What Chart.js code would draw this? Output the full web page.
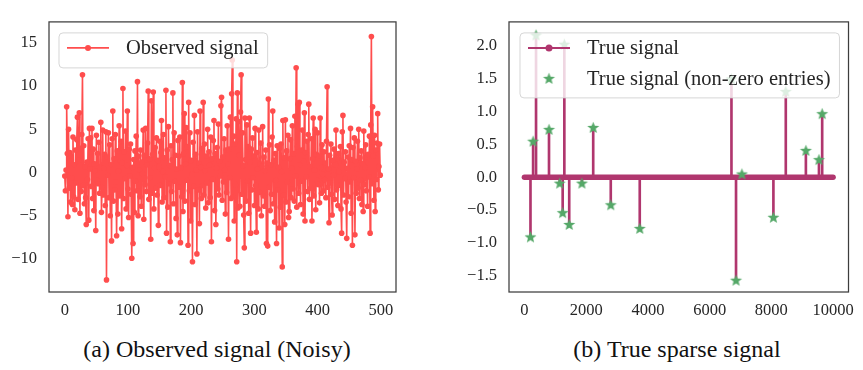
<!DOCTYPE html>
<html>
<head>
<meta charset="utf-8">
<script src="https://cdn.jsdelivr.net/npm/chart.js"></script>
<style>
  body { margin: 0; background: #fff; }
  #wrap { position: relative; width: 863px; height: 370px; overflow: hidden; }
  canvas { position: absolute; top: 0; }
  .cap { position: absolute; width: 400px; text-align: center; font: 24px "Liberation Serif", serif; color: #111; top: 336px; }
</style>
</head>
<body>
<div id="wrap">
  <canvas id="obsChart" width="420" height="320" style="left:0"></canvas>
  <canvas id="trueChart" width="443" height="320" style="left:420px"></canvas>
  <div class="cap" style="left:17px">(a) Observed signal (Noisy)</div>
  <div class="cap" style="left:477px">(b) True sparse signal</div>
</div>
<script>
// observed (noisy) signal, index 0..499
const observed = [
  -0.4, -2.1, 0.3, 7.6, 2.2, -5.1, 5.0, -1.8, 2.3, -3.4,
  1.9, -0.6, -3.7, 4.1, -2.8, 0.9, -4.3, 2.6, -1.2, 3.8,
  6.4, -3.1, 1.4, 6.9, -4.7, 2.8, -2.2, 4.4, 11.3, -1.5,
  3.1, -3.6, 0.7, -2.9, -6.0, 1.2, -0.8, 3.9, -5.5, 5.1,
  0.4, 4.0, -1.6, 5.1, -3.0, 2.7, -4.4, 1.0, 0.2, -6.7,
  4.3, -0.9, 2.2, -1.3, 3.5, -2.4, 0.6, 5.8, -4.6, -1.7,
  4.9, -2.6, 0.5, 2.1, -3.8, 4.7, -12.4, 1.8, -0.3, 4.6,
  -2.9, 3.2, -5.0, 0.9, -7.9, 3.9, 7.1, -3.3, 1.6, -2.0,
  4.4, -1.1, -7.3, 2.5, -4.8, 0.2, 5.4, -2.7, 1.3, 3.6,
  -6.5, 1.1, 9.7, -3.0, 2.4, -0.7, 4.8, -4.2, 0.8, 7.1,
  -1.9, -5.2, 2.7, -0.4, 3.3, -2.5, -9.9, 0.6, -8.2, 1.5,
  -4.6, 2.5, -1.0, 4.2, -2.1, 10.5, -5.0, 1.9, 0.3, -2.8,
  2.6, -3.9, 1.2, -0.2, 4.9, -5.4, 2.0, -1.4, 5.1, -2.2,
  0.9, 3.4, 9.4, -3.1, 1.6, -0.6, -7.7, 8.3, -2.4, 2.1,
  9.3, -4.2, 0.5, 2.9, -1.8, 4.0, -2.6, 1.4, -6.1, 0.7,
  3.6, -1.5, 2.3, 6.0, -3.4, 0.1, 4.4, -2.9, 1.7, -0.5,
  9.5, -7.0, 2.6, -4.0, 5.3, -1.3, 0.8, -8.0, 3.1, -2.2,
  1.5, 9.2, -3.6, 4.6, -1.0, 2.0, -5.3, 0.4, -7.2, 3.7,
  -1.7, 1.9, 4.1, -8.1, 0.6, -2.8, 10.4, -4.5, 2.2, 6.8,
  -3.3, 1.0, 5.2, -0.9, 3.0, -8.4, 8.1, -2.1, 4.6, -5.6,
  1.4, -0.2, -10.3, 3.5, -1.6, 6.6, -3.7, 2.1, 0.3, -9.4,
  4.7, -2.0, 1.1, -5.9, 7.1, 0.6, -3.0, 2.8, -1.5, 8.1,
  -2.6, 3.3, 0.2, -4.1, 1.9, -1.2, 5.0, -3.5, 2.4, 0.9,
  -2.9, 4.1, -8.0, 1.6, -0.8, 3.7, 6.0, -4.4, 2.2, -6.0,
  0.5, 2.9, -1.9, 5.6, -2.6, 1.3, -0.4, 7.7, 8.7, -3.2,
  1.8, -1.1, 3.9, 0.3, -4.8, 2.6, -2.3, 5.4, 1.0, -7.7,
  2.7, -0.6, 6.4, -3.0, 9.1, 13.0, -2.8, 4.2, -5.6, 3.3,
  -1.4, 6.2, -10.3, 9.2, -4.1, 5.9, 2.0, -3.9, 7.0, 11.3,
  -2.5, 4.6, 0.8, -4.9, -8.7, 6.3, 1.5, -3.3, 5.5, -1.0,
  3.0, -4.7, 6.3, 1.2, -7.0, 2.7, -2.0, 4.0, -0.6, 1.9,
  -3.8, 5.1, -1.5, -6.9, 2.3, 0.4, -4.2, 4.9, -2.3, 1.0,
  3.4, -5.0, 0.7, 5.3, -2.7, 1.8, -3.9, 0.2, 2.6, -8.2,
  1.1, -8.5, 8.5, -1.7, 3.2, -4.4, 0.9, -2.5, 4.1, 7.1,
  -3.6, 1.4, -5.7, 2.2, -0.9, -8.2, 3.1, -2.0, 0.6, -6.4,
  2.8, -4.0, 3.3, 0.1, -10.9, 6.0, -2.6, 1.7, -6.0, 6.1,
  -3.4, 2.5, -1.1, 4.3, -5.2, -4.5, 1.6, 3.8, -2.9, 0.5,
  5.4, -1.9, 2.2, -3.3, 6.5, -0.4, 12.1, -4.0, 3.0, 7.9,
  -2.4, 8.1, 0.9, -3.7, 2.6, -1.0, 4.9, -4.8, 1.3, 6.9,
  -5.6, 2.3, -0.5, 3.6, -2.2, 4.4, 7.9, -3.1, 0.7, -1.8,
  3.9, -5.6, 1.6, 6.3, -2.7, 0.3, 5.0, -4.3, 2.1, -0.9,
  4.6, -1.4, 1.9, -3.5, 6.3, 0.6, -2.4, 3.2, -0.2, -2.1,
  2.4, -0.8, 1.1, -2.9, 3.6, 9.9, -1.7, 0.4, -5.8, 2.0,
  -1.2, 3.3, -2.5, -4.9, 1.4, -0.3, 2.7, -3.1, 0.9, 4.9,
  -2.0, 1.6, -3.8, 2.2, 0.1, -1.5, 3.0, -4.2, -7.0, 4.7,
  6.6, -2.6, 1.2, -0.7, 2.4, -3.4, -7.6, 0.5, 1.8, -2.8,
  3.1, -1.1, 5.1, -4.7, 1.5, -8.4, 2.9, -0.6, 4.0, -7.2,
  1.3, -2.4, 0.4, 3.6, -1.8, 5.0, -3.0, 1.7, -0.9, 2.5,
  -3.7, 1.0, -4.5, 4.8, -1.4, 0.6, 3.2, -2.1, 1.8, -3.9,
  2.1, -0.5, 4.2, -7.0, 5.5, 15.7, -1.3, 7.6, 1.9, -3.2,
  4.3, -4.5, 2.6, -0.8, 3.4, 6.8, -2.0, 0.7, 3.3, -0.3
];

// true sparse signal: positions of the non-zero entries and their values
const sparseIdx = [196, 281, 376, 796, 1144, 1239, 1293, 1451, 1862, 2228,
                   2797, 3736, 6707, 6855, 7045, 8066, 8467, 9118, 9542, 9646];
const sparseVal = [-0.91, 0.55, 2.17, 0.73, -0.09, -0.54, 2.03, -0.72, -0.09, 0.76,
                   -0.42, -0.78, 1.50, -1.57, 0.05, -0.61, 1.31, 0.41, 0.27, 0.97];
const signalLength = 10000;

const obsXTicks = [0, 100, 200, 300, 400, 500];
const obsYTicks = [-10, -5, 0, 5, 10, 15];
const trueXTicks = [0, 2000, 4000, 6000, 8000, 10000];
const trueYTicks = [-1.5, -1.0, -0.5, 0.0, 0.5, 1.0, 1.5, 2.0];

const RED = 'rgb(255,77,77)';
const PLUM = '#b0366e';
const GREEN = '#55a868';
const TXT = '#262626';
const FONT = '"Liberation Serif", "Times New Roman", serif';

const minus = s => String(s).replace('-', '\u2212');

function makeStar(r, color) {
  const c = document.createElement('canvas');
  const s = Math.ceil(r * 2 + 2);
  c.width = s; c.height = s;
  const g = c.getContext('2d');
  g.beginPath();
  for (let i = 0; i < 10; i++) {
    const rad = i % 2 ? r * 0.42 : r;
    const a = -Math.PI / 2 + i * Math.PI / 5;
    g.lineTo(s / 2 + rad * Math.cos(a), s / 2 + rad * Math.sin(a) + 0.5);
  }
  g.closePath();
  g.fillStyle = color;
  g.fill();
  return c;
}
const starImg = makeStar(6.3, GREEN);

// frame round the plot area + legend drawn inside it (like matplotlib)
function framePlugin(legendItems, dx) {
  return {
    id: 'frameLegend',
    afterDatasetsDraw(chart) {
      const ctx = chart.ctx, a = chart.chartArea;
      ctx.save();
      ctx.font = '20.5px ' + FONT;
      const x0 = a.left + dx, y0 = a.top + 11;
      let tw = 0;
      legendItems.forEach(it => { tw = Math.max(tw, ctx.measureText(it.label).width); });
      const w = 67 + tw + 9, h = 5 + 30 * legendItems.length;
      ctx.beginPath();
      ctx.roundRect(x0, y0, w, h, 4);
      ctx.fillStyle = 'rgba(255,255,255,0.8)';
      ctx.fill();
      ctx.strokeStyle = 'rgba(204,204,204,0.8)';
      ctx.lineWidth = 1;
      ctx.stroke();
      legendItems.forEach((it, i) => {
        const cy = y0 + 15 + i * 30.5;
        const mx = x0 + 29;
        if (it.kind === 'line') {
          ctx.strokeStyle = it.color;
          ctx.lineWidth = it.width;
          ctx.beginPath();
          ctx.moveTo(x0 + 8, cy);
          ctx.lineTo(x0 + 50, cy);
          ctx.stroke();
          ctx.fillStyle = it.color;
          ctx.beginPath();
          ctx.arc(mx, cy, it.dot, 0, Math.PI * 2);
          ctx.fill();
        } else {
          ctx.drawImage(starImg, mx - starImg.width / 2, cy - starImg.height / 2);
        }
        ctx.fillStyle = TXT;
        ctx.textBaseline = 'middle';
        ctx.textAlign = 'left';
        ctx.fillText(it.label, x0 + 67, cy + 1);
      });
      ctx.restore();
    },
    afterDraw(chart) {
      const ctx = chart.ctx, a = chart.chartArea;
      ctx.save();
      ctx.strokeStyle = '#3d3d3d';
      ctx.lineWidth = 1.25;
      ctx.strokeRect(a.left, a.top, a.right - a.left, a.bottom - a.top);
      ctx.restore();
    }
  };
}

function axis(min, max, ticks, fmt, fitKey, fitVal, pad) {
  return {
    type: 'linear',
    min: min,
    max: max,
    offset: false,
    grid: { display: false, drawTicks: false },
    border: { display: false },
    afterBuildTicks: s => { s.ticks = ticks.map(v => ({ value: v })); },
    afterFit: s => { s[fitKey] = fitVal; },
    ticks: {
      padding: pad,
      autoSkip: false,
      maxRotation: 0,
      color: TXT,
      font: { family: FONT, size: 16.5 },
      callback: fmt
    }
  };
}

new Chart(document.getElementById('obsChart'), {
  type: 'line',
  data: {
    datasets: [{
      label: 'Observed signal',
      data: observed.map((v, i) => ({ x: i, y: v })),
      borderColor: RED,
      backgroundColor: RED,
      borderWidth: 1.6,
      pointRadius: 2.8,
      pointBorderWidth: 0,
      tension: 0
    }]
  },
  options: {
    responsive: false,
    animation: false,
    layout: { padding: { top: 5, right: 24, bottom: 0, left: 0 } },
    plugins: { legend: { display: false }, tooltip: { enabled: false } },
    scales: {
      x: axis(-24.95, 523.95, obsXTicks, v => minus(v), 'height', 28, 9),
      y: axis(-13.8, 17.4, obsYTicks, v => minus(v), 'width', 49, 12)
    }
  },
  plugins: [framePlugin([{ label: 'Observed signal', kind: 'line', color: RED, width: 1.6, dot: 3 }], 10)]
});

new Chart(document.getElementById('trueChart'), {
  type: 'bar',
  data: {
    datasets: [
      {
        type: 'scatter',
        label: 'True signal (non-zero entries)',
        data: sparseIdx.map((x, i) => ({ x: x, y: sparseVal[i] })),
        pointStyle: starImg,
        order: 0
      },
      {
        type: 'line',
        label: 'True signal baseline',
        data: [{ x: 0, y: 0 }, { x: signalLength - 1, y: 0 }],
        borderColor: PLUM,
        borderWidth: 5.5,
        borderCapStyle: 'round',
        pointRadius: 0,
        order: 1
      },
      {
        type: 'bar',
        label: 'True signal',
        data: sparseIdx.map((x, i) => ({ x: x, y: sparseVal[i] })),
        backgroundColor: PLUM,
        borderWidth: 0,
        barThickness: 2,
        order: 2
      }
    ]
  },
  options: {
    responsive: false,
    animation: false,
    layout: { padding: { top: 5, right: 6, bottom: 0, left: 0 } },
    plugins: { legend: { display: false }, tooltip: { enabled: false } },
    scales: {
      x: axis(-499.95, 10498.95, trueXTicks, v => minus(v), 'height', 28, 9),
      y: axis(-1.75, 2.37, trueYTicks, v => minus(Number(v).toFixed(1)), 'width', 89, 12)
    }
  },
  plugins: [framePlugin([
    { label: 'True signal', kind: 'line', color: PLUM, width: 2, dot: 3.5 },
    { label: 'True signal (non-zero entries)', kind: 'star' }
  ], 11)]
});
</script>
</body>
</html>
